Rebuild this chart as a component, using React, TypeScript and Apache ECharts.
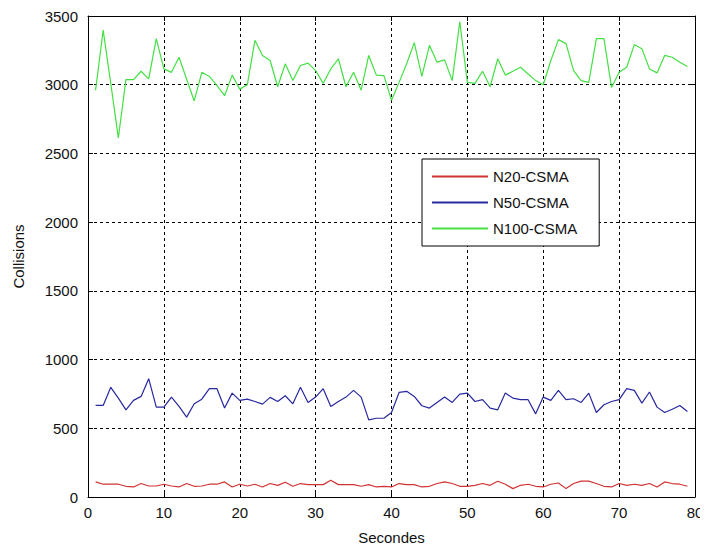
import React, { useEffect, useRef } from "react";
import * as echarts from "echarts";

const seconds: number[] = Array.from({ length: 79 }, (_, i) => i + 1);

const n20: number[] = [
  110, 93, 93, 93, 78, 73, 98, 80, 80, 93,
  80, 73, 98, 78, 80, 93, 93, 110, 73, 93,
  80, 93, 73, 98, 85, 107, 78, 98, 90, 90,
  90, 122, 90, 90, 90, 78, 90, 73, 78, 73,
  98, 90, 90, 73, 78, 98, 110, 98, 78, 78,
  85, 98, 85, 115, 93, 61, 85, 93, 78, 73,
  93, 102, 61, 98, 115, 115, 98, 78, 73, 98,
  85, 93, 85, 98, 73, 110, 98, 93, 78,
];

const n50: number[] = [
  666, 666, 798, 720, 634, 703, 732, 861, 654, 654,
  727, 659, 581, 678, 712, 788, 788, 647, 756, 703,
  712, 695, 676, 725, 695, 737, 678, 798, 688, 727,
  788, 659, 695, 727, 776, 727, 561, 573, 573, 615,
  761, 769, 732, 664, 647, 688, 727, 688, 749, 756,
  695, 708, 647, 634, 756, 720, 708, 708, 605, 727,
  703, 776, 708, 715, 688, 756, 615, 671, 695, 708,
  788, 776, 683, 764, 654, 615, 639, 666, 622,
];

const n100: number[] = [
  2960, 3397, 3010, 2613, 3037, 3037, 3098, 3042, 3336, 3115,
  3090, 3200, 3040, 2882, 3090, 3060, 2993, 2920, 3070, 2968,
  3000, 3323, 3213, 3176, 2985, 3152, 3030, 3140, 3157, 3103,
  3010, 3115, 3189, 2985, 3090, 2960, 3213, 3070, 3066, 2887,
  3017, 3152, 3306, 3061, 3287, 3164, 3181, 3030, 3458, 3017,
  3010, 3098, 2985, 3189, 3070, 3098, 3127, 3078, 3030, 3000,
  3176, 3328, 3299, 3103, 3030, 3017, 3336, 3336, 2980, 3090,
  3127, 3292, 3262, 3115, 3086, 3213, 3200, 3164, 3132,
];

const seriesNames: string[] = ["N20-CSMA", "N50-CSMA", "N100-CSMA"];
const seriesColors: string[] = ["#d03333", "#2828a0", "#44e044"];

const FONT = "Liberation Sans, Arial, sans-serif";

const pairs = (ys: number[]) => seconds.map((x, i) => [x, ys[i]]);

export default function App() {
  const ref = useRef<HTMLDivElement>(null);

  useEffect(() => {
    if (!ref.current) return;
    const chart = echarts.init(ref.current, undefined, { renderer: "svg" });

    const gridDash = { color: "#000", type: [3, 3] as number[], width: 1 };
    const axisLine = { show: true, onZero: false, lineStyle: { color: "#000", width: 1 } };
    const inTicks = { show: true, inside: true, length: 5, lineStyle: { color: "#000" } };
    const plain = (v: number) => String(v);

    chart.setOption({
      animation: false,
      backgroundColor: "#fff",
      color: seriesColors,
      grid: { left: 88, right: 13, top: 16, bottom: 55, containLabel: false },
      legend: {
        orient: "vertical",
        left: 422,
        top: 159,
        backgroundColor: "#fff",
        borderColor: "#000",
        borderWidth: 1,
        borderRadius: 0,
        padding: [10, 22, 10, 10],
        itemGap: 11,
        itemWidth: 56,
        itemHeight: 2,
        icon: "rect",
        textStyle: { fontFamily: FONT, fontSize: 15, color: "#111" },
        data: seriesNames,
      },
      xAxis: [
        {
          type: "value",
          min: 0,
          max: 80,
          interval: 10,
          name: "Secondes",
          nameLocation: "middle",
          nameGap: 33,
          nameTextStyle: { fontFamily: FONT, fontSize: 15, color: "#111" },
          axisLine,
          axisTick: inTicks,
          axisLabel: { fontFamily: FONT, fontSize: 15, color: "#111", margin: 8, formatter: plain },
          splitLine: { show: true, lineStyle: gridDash },
        },
        {
          type: "value",
          position: "top",
          min: 0,
          max: 80,
          interval: 10,
          axisLine,
          axisTick: inTicks,
          axisLabel: { show: false },
          splitLine: { show: false },
        },
      ],
      yAxis: [
        {
          type: "value",
          min: 0,
          max: 3500,
          interval: 500,
          name: "Collisions",
          nameLocation: "middle",
          nameGap: 62,
          nameTextStyle: { fontFamily: FONT, fontSize: 15, color: "#111" },
          axisLine,
          axisTick: inTicks,
          axisLabel: { fontFamily: FONT, fontSize: 15, color: "#111", margin: 10, formatter: plain },
          splitLine: { show: true, lineStyle: gridDash },
        },
        {
          type: "value",
          position: "right",
          min: 0,
          max: 3500,
          interval: 500,
          axisLine,
          axisTick: inTicks,
          axisLabel: { show: false },
          splitLine: { show: false },
        },
      ],
      series: [n20, n50, n100].map((ys, i) => ({
        name: seriesNames[i],
        type: "line",
        data: pairs(ys),
        showSymbol: false,
        symbol: "none",
        itemStyle: { color: seriesColors[i] },
        lineStyle: { color: seriesColors[i], width: 1.2 },
        z: 3,
      })),
    });

    return () => chart.dispose();
  }, []);

  return <div ref={ref} style={{ width: 708, height: 552, marginLeft: -8, marginTop: -8 }} />;
}
